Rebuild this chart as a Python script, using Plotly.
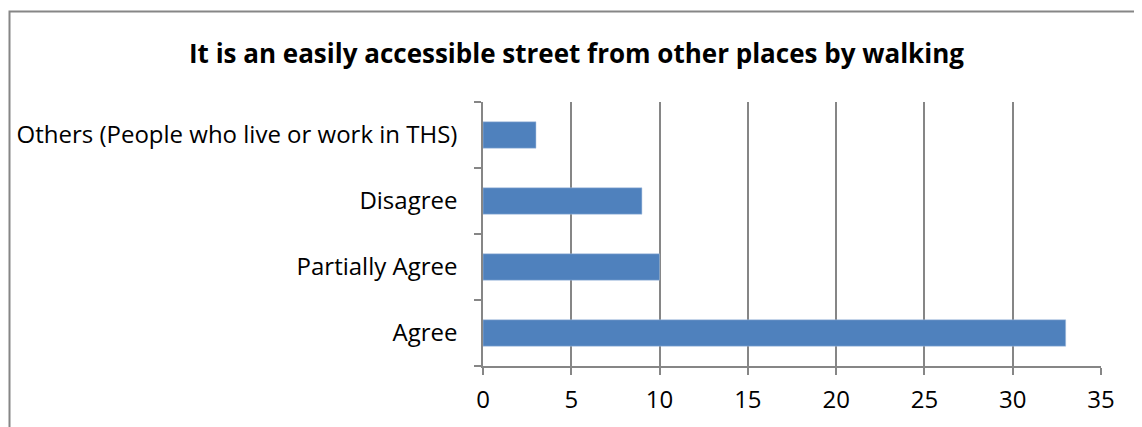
import plotly.graph_objects as go

categories = ["Agree", "Partially Agree", "Disagree", "Others (People who live or work in THS)"]
values = [33, 10, 9, 3]
x_ticks = [0, 5, 10, 15, 20, 25, 30, 35]
title_text = "It is an easily accessible street from other places by walking"

# page body has an 8px margin; compensate so the picture lands where the reference is
OFF = 8
W, H = 1142 - OFF, 427 - OFF
L = 483 - OFF
R = 1142 - 1101
T = 102 - OFF
B = 427 - 366

def px_to_paper_x(px):
    return (px - OFF - L) / (W - L - R)

def px_to_paper_y(py):
    return (H - B - (py - OFF)) / (H - T - B)

fig = go.Figure(go.Bar(
    y=categories, x=values, orientation="h",
    marker=dict(color="#4F81BD", line=dict(color="#A9C1E0", width=0.5)),
    width=0.4,
))

fig.update_layout(
    width=W, height=H,
    margin=dict(l=L, r=R, t=T, b=B, autoexpand=False),
    paper_bgcolor="white", plot_bgcolor="white",
    font=dict(family="Open Sans", size=24, color="black"),
    showlegend=False,
    bargap=0.6,
    xaxis=dict(
        range=[0, 35], tickvals=x_ticks, ticktext=[str(v) for v in x_ticks],
        showgrid=True, gridcolor="#868686", gridwidth=1.5,
        showline=True, linecolor="#868686", linewidth=1.5,
        ticks="outside", ticklen=7, tickcolor="#868686", tickwidth=1.5,
        zeroline=False, fixedrange=True, ticklabelstandoff=4,
    ),
    yaxis=dict(
        type="category", categoryorder="array", categoryarray=categories,
        showline=True, linecolor="#868686", linewidth=1.5,
        ticks="outside", ticklen=7, tickcolor="#868686", tickwidth=1.5,
        tickson="boundaries",
        showgrid=False, zeroline=False, fixedrange=True, ticklabelstandoff=19,
    ),
    annotations=[dict(
        text="<b>" + title_text + "</b>", xref="paper", yref="paper",
        x=px_to_paper_x(576), y=px_to_paper_y(53), xanchor="center", yanchor="middle",
        showarrow=False, font=dict(family="Open Sans", size=26, color="black"),
    )],
    shapes=[dict(
        type="rect", xref="paper", yref="paper",
        x0=px_to_paper_x(9.5), x1=px_to_paper_x(1142 + 20),
        y0=px_to_paper_y(427 + 20), y1=px_to_paper_y(11.5),
        line=dict(color="#868686", width=2), fillcolor="rgba(0,0,0,0)", layer="below",
    )],
)

fig.write_html("out.html")
